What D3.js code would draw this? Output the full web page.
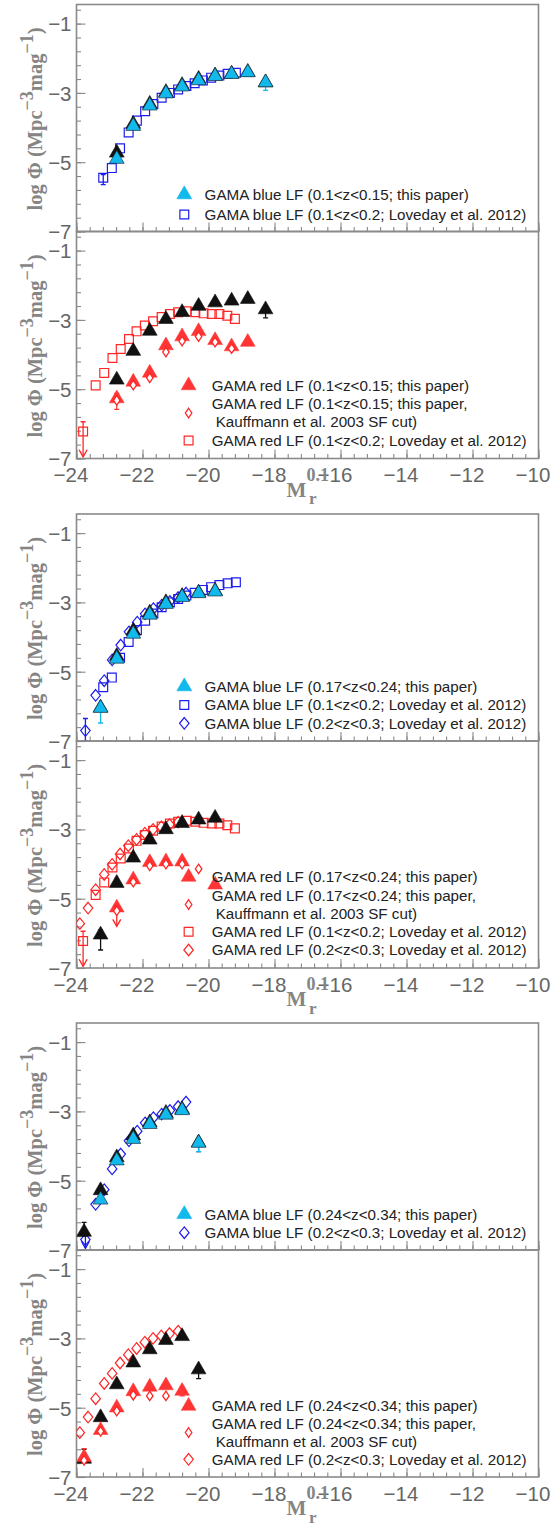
<!DOCTYPE html>
<html><head><meta charset="utf-8">
<script src="https://cdn.jsdelivr.net/npm/d3@7"></script>
<style>body{margin:0;background:#fff}svg{display:block}</style>
</head><body>
<script>
// ---------------- data ----------------
const xTickValues = [-24, -22, -20, -18, -16, -14, -12, -10];
const yTickValues = [-7, -5, -3, -1];

// black triangles, 0.1<z<0.15
const blk1X = [-22.78, -22.28, -21.78, -21.29, -20.8, -20.3, -19.8, -19.3, -18.81, -18.27];
const blk1Y = [-4.73, -3.9, -3.32, -2.98, -2.78, -2.6, -2.5, -2.45, -2.4, -2.7];
// GAMA blue LF 0.1<z<0.15 (this paper)
const cyan1Y = [-4.91, -3.96, -3.37, -3.02, -2.82, -2.64, -2.52, -2.46, -2.41, -2.7];
// GAMA red LF 0.1<z<0.15 (this paper)
const red1X = [-22.78, -22.28, -21.78, -21.29, -20.8, -20.3, -19.8, -19.3, -18.81];
const red1Y = [-5.27, -4.79, -4.53, -3.74, -3.48, -3.33, -3.59, -3.77, -3.64];
// GAMA red LF 0.1<z<0.15, Kauffmann cut
const kau1X = [-22.78, -22.28, -21.78, -21.29, -20.8, -20.3, -19.8, -19.3];
const kau1Y = [-5.32, -4.88, -4.67, -3.93, -3.61, -3.48, -3.64, -3.83];

// black triangles, 0.17<z<0.24
const blk2X = [-23.27, -22.78, -22.28, -21.78, -21.29, -20.8, -20.3, -19.8];
const blk2Y = [-6.04, -4.55, -3.82, -3.3, -3.0, -2.82, -2.72, -2.67];
const cyan2Y = [-6.05, -4.63, -3.91, -3.36, -3.05, -2.85, -2.74, -2.69];
const red2X = [-22.78, -22.28, -21.78, -21.29, -20.8, -19.8];
const red2Y = [-5.26, -4.45, -3.95, -3.93, -3.93, -4.6];
const kau2X = [-22.78, -22.28, -21.78, -21.29, -20.8, -20.3];
const kau2Y = [-5.35, -4.52, -4.05, -4.0, -4.0, -4.14];

// black triangles, 0.24<z<0.34
const blk3X = [-23.77, -23.27, -22.78, -22.28, -21.78, -21.29, -20.8, -20.3];
const blk3Y = [-6.48, -5.28, -4.33, -3.7, -3.32, -3.05, -2.94, -3.9];
const cyan3X = [-23.27, -22.78, -22.28, -21.78, -21.29, -20.8, -20.3];
const cyan3Y = [-5.55, -4.42, -3.8, -3.37, -3.1, -2.97, -3.91];
const red3X = [-23.77, -23.27, -22.78, -22.28, -21.78, -21.29, -20.8];
const red3Y = [-6.43, -5.65, -5.0, -4.53, -4.4, -4.36, -4.52];
const kau3X = [-23.77, -23.27, -22.78, -22.28, -21.78, -21.29];
const kau3Y = [-6.52, -5.68, -5.1, -4.64, -4.66, -4.66];

// Loveday et al. 2012
const lovBlueAX = [-23.19, -22.93, -22.68, -22.42, -22.17, -21.92, -21.67, -21.42, -21.17, -20.92, -20.67, -20.42, -20.17, -19.92, -19.67, -19.42, -19.17];
const lovBlueAY = [-5.45, -5.17, -4.6, -4.14, -3.8, -3.53, -3.32, -3.14, -3.0, -2.9, -2.8, -2.72, -2.64, -2.56, -2.5, -2.45, -2.42];
const lovBlueBX = [-23.73, -23.42, -23.16, -22.92, -22.66, -22.41, -22.16, -21.92, -21.67, -21.42, -21.17, -20.92, -20.68];
const lovBlueBY = [-6.7, -5.68, -5.26, -4.66, -4.23, -3.85, -3.57, -3.33, -3.18, -3.08, -2.97, -2.86, -2.73];
const lovRedAX = [-23.8, -23.42, -23.16, -22.91, -22.66, -22.41, -22.18, -21.93, -21.68, -21.42, -21.17, -20.92, -20.66, -20.4, -20.15, -19.9, -19.67, -19.43, -19.2];
const lovRedAY = [-6.22, -4.89, -4.53, -4.1, -3.84, -3.55, -3.33, -3.16, -3.04, -2.92, -2.83, -2.78, -2.75, -2.78, -2.81, -2.83, -2.83, -2.88, -2.97];
const lovRedBX = [-23.9, -23.65, -23.42, -23.16, -22.92, -22.68, -22.43, -22.18, -21.93, -21.68, -21.43, -21.18, -20.92];
const lovRedBY = [-5.72, -5.27, -4.74, -4.3, -4.01, -3.71, -3.47, -3.29, -3.11, -3.0, -2.93, -2.86, -2.79];

// error bars: [x, low, high, arrowDown]
const errLovBlueA = [[-23.19, -5.65, -5.36, 0]];
const errCyan1 = [[-18.27, -2.93, -2.7, 0]];
const errBlk1 = [[-18.27, -2.94, -2.62, 0]];
const errLovRedA = [[-23.8, -6.95, -5.94, 1]];
const errRed1 = [[-22.78, -5.58, -5.12, 0]];
const errCyan2 = [[-23.27, -6.48, -5.9, 0]];
const errBlk2 = [[-23.27, -6.48, -5.9, 0]];
const errLovBlueB = [[-23.73, -7.0, -6.35, 0]];
const errKau2 = [[-22.78, -5.8, -5.2, 1]];
const errBlk3 = [[-23.77, -6.6, -6.2, 0], [-20.3, -4.16, -3.8, 0]];
const errCyan3 = [[-20.3, -4.16, -3.8, 0]];
const errLovBlueB5 = [[-23.73, -6.95, -6.5, 1]];
const errRed3 = [[-20.8, -4.66, -4.4, 0], [-23.77, -6.6, -6.18, 0]];

// ---------------- layout ----------------
const W = 558, H = 1526;
const svg = d3.select('body').append('svg').attr('width', W).attr('height', H);
const x = d3.scaleLinear().domain([-24, -10]).range([76.5, 538.5]);
const PX_PER_UNIT = 34.65, panelH = 227;
const groupBottoms = [458.5, 968, 1477];

const COL = {cyan: '#12b9ec', blue: '#1c1cf0', red: '#ff3434', redLine: '#ff2626', black: '#111'};
const SANS = "'Liberation Sans', Arial, sans-serif";
const SERIF = "'Liberation Serif', 'Times New Roman', serif";

function zip(xs, ys) { return xs.map((v, i) => [v, ys[i]]); }

const triPath = d3.symbol(d3.symbolTriangle, 95)();
const sqPath = d3.symbol(d3.symbolSquare, 78)();
function diamondPath(w, h) { return `M0,${-h/2}L${w/2},0L0,${h/2}L${-w/2},0Z`; }
const bigDia = diamondPath(9.5, 11.5), smallDia = diamondPath(6.5, 9.5);

const STYLES = {
  black: {path: triPath, fill: COL.black, stroke: COL.black, sw: 0.6, ec: COL.black},
  cyan: {path: triPath, fill: COL.cyan, stroke: '#1d3340', sw: 0.7, ec: COL.cyan},
  red: {path: triPath, fill: COL.red, stroke: COL.red, sw: 0.5, ec: COL.red},
  blueSq: {path: sqPath, fill: 'none', stroke: COL.blue, sw: 1.2, ec: COL.blue},
  redSq: {path: sqPath, fill: 'none', stroke: COL.redLine, sw: 1.2, ec: COL.redLine},
  blueDia: {path: bigDia, fill: 'none', stroke: COL.blue, sw: 1.2, ec: COL.blue},
  redDia: {path: bigDia, fill: 'none', stroke: COL.redLine, sw: 1.2, ec: COL.redLine},
  kau: {path: smallDia, fill: '#fff', stroke: COL.redLine, sw: 1.3, ec: COL.redLine}
};

const panels = [
  {series: [['blueSq', zip(lovBlueAX, lovBlueAY), errLovBlueA], ['black', zip(blk1X, blk1Y), []], ['cyan', zip(blk1X, cyan1Y), errCyan1]],
   legend: {mx: 184.3, tx: 204.6, rows: [[-37, 'cyan', ['GAMA blue LF (0.1<z<0.15; this paper)']], [-17, 'blueSq', ['GAMA blue LF (0.1<z<0.2; Loveday et al. 2012)']]]}},
  {series: [['redSq', zip(lovRedAX, lovRedAY), errLovRedA], ['black', zip(blk1X, blk1Y), errBlk1], ['red', zip(red1X, red1Y), errRed1], ['kau', zip(kau1X, kau1Y), []]],
   legend: {mx: 188.6, tx: 211.7, rows: [[-73, 'red', ['GAMA red LF (0.1<z<0.15; this paper)']], [-45.5, 'kau', ['GAMA red LF (0.1<z<0.15; this paper,', 'Kauffmann et al. 2003 SF cut)']], [-18, 'redSq', ['GAMA red LF (0.1<z<0.2; Loveday et al. 2012)']]]}},
  {series: [['blueSq', zip(lovBlueAX, lovBlueAY), []], ['blueDia', zip(lovBlueBX, lovBlueBY), errLovBlueB], ['black', zip(blk2X, blk2Y), []], ['cyan', zip(blk2X, cyan2Y), errCyan2]],
   legend: {mx: 184.3, tx: 204.6, rows: [[-54.5, 'cyan', ['GAMA blue LF (0.17<z<0.24; this paper)']], [-36, 'blueSq', ['GAMA blue LF (0.1<z<0.2; Loveday et al. 2012)']], [-17.7, 'blueDia', ['GAMA blue LF (0.2<z<0.3; Loveday et al. 2012)']]]}},
  {series: [['redSq', zip(lovRedAX, lovRedAY), errLovRedA], ['redDia', zip(lovRedBX, lovRedBY), []], ['black', zip(blk2X, blk2Y), errBlk2], ['red', zip(red2X, red2Y), []], ['kau', zip(kau2X, kau2Y), errKau2]],
   legend: {mx: 188.6, tx: 211.7, rows: [[-91, 'red', ['GAMA red LF (0.17<z<0.24; this paper)']], [-63.5, 'kau', ['GAMA red LF (0.17<z<0.24; this paper,', 'Kauffmann et al. 2003 SF cut)']], [-36.3, 'redSq', ['GAMA red LF (0.1<z<0.2; Loveday et al. 2012)']], [-18, 'redDia', ['GAMA red LF (0.2<z<0.3; Loveday et al. 2012)']]]}},
  {series: [['blueDia', zip(lovBlueBX, lovBlueBY), errLovBlueB5], ['black', zip(blk3X, blk3Y), errBlk3], ['cyan', zip(cyan3X, cyan3Y), errCyan3]],
   legend: {mx: 184.3, tx: 204.6, rows: [[-35.7, 'cyan', ['GAMA blue LF (0.24<z<0.34; this paper)']], [-17.3, 'blueDia', ['GAMA blue LF (0.2<z<0.3; Loveday et al. 2012)']]]}},
  {series: [['redDia', zip(lovRedBX, lovRedBY), []], ['black', zip(blk3X, blk3Y), errBlk3], ['red', zip(red3X, red3Y), errRed3], ['kau', zip(kau3X, kau3Y), []]],
   legend: {mx: 188.6, tx: 211.7, rows: [[-71, 'red', ['GAMA red LF (0.24<z<0.34; this paper)']], [-44.5, 'kau', ['GAMA red LF (0.24<z<0.34; this paper,', 'Kauffmann et al. 2003 SF cut)']], [-17.7, 'redDia', ['GAMA red LF (0.2<z<0.3; Loveday et al. 2012)']]]}}
];

const xMinor = d3.range(-24, -9.99, 0.4);
const yMinor = d3.range(-7, -0.5, 0.4);

panels.forEach((p, k) => {
  const g = Math.floor(k / 2), isTop = k % 2 === 0;
  const bottom = groupBottoms[g] - (isTop ? panelH : 0);
  const y = d3.scaleLinear().domain([-7, -7 + panelH / PX_PER_UNIT]).range([bottom, bottom - panelH]);
  const G = svg.append('g');

  const cid = 'clip' + k;
  G.append('clipPath').attr('id', cid).append('rect')
    .attr('x', x.range()[0]).attr('y', bottom - panelH).attr('width', x.range()[1] - x.range()[0]).attr('height', panelH);

  // axes (ticks inward)
  const axB = G.append('g').attr('transform', `translate(0,${bottom})`);
  axB.call(d3.axisBottom(x).tickValues(xMinor).tickSize(-4.5).tickFormat(''));
  const axB2 = G.append('g').attr('transform', `translate(0,${bottom})`);
  axB2.call(d3.axisBottom(x).tickValues(xTickValues).tickSize(-9).tickPadding(19.5).tickFormat(d => isTop ? '' : d3.format('')(d)));
  const axL = G.append('g').attr('transform', `translate(${x.range()[0]},0)`);
  axL.call(d3.axisLeft(y).tickValues(yMinor).tickSize(-4.5).tickFormat(''));
  const axL2 = G.append('g').attr('transform', `translate(${x.range()[0]},0)`);
  axL2.call(d3.axisLeft(y).tickValues(yTickValues).tickSize(-9).tickPadding(5).tickFormat(d3.format('')));
  [axB, axB2, axL, axL2].forEach(a => {
    a.select('.domain').remove();
    a.selectAll('.tick line').attr('stroke', '#888').attr('stroke-width', 1.1);
    a.selectAll('.tick text').attr('fill', '#666').style('font-family', SANS).style('font-size', '20.5px');
  });
  axB2.selectAll('.tick text').attr('dx', -6).attr('dy', '0.2em');
  axL2.selectAll('.tick text').attr('dy', '0.36em');

  // frame
  G.append('rect').attr('x', x.range()[0]).attr('y', bottom - panelH)
    .attr('width', x.range()[1] - x.range()[0]).attr('height', panelH)
    .attr('fill', 'none').attr('stroke', '#8a8a8a').attr('stroke-width', 1.6);

  // y label
  const yl = G.append('text').attr('transform', `translate(41.5,${bottom - panelH / 2 + 1}) rotate(-90)`)
    .attr('text-anchor', 'middle').attr('fill', '#858585')
    .style('font-family', SERIF).style('font-weight', 'bold').style('font-size', '20.5px');
  yl.append('tspan').text('log \u03A6 (Mpc');
  yl.append('tspan').attr('dy', -9).style('font-size', '18px').text('\u22123');
  yl.append('tspan').attr('dy', 9).text('mag');
  yl.append('tspan').attr('dy', -9).style('font-size', '18px').text('\u22121');
  yl.append('tspan').attr('dy', 9).text(')');

  // x title (bottom panels only)
  if (!isTop) {
    const t = G.append('text').attr('fill', '#858585').style('font-family', SERIF).style('font-weight', 'bold');
    t.append('tspan').attr('x', 286.5).attr('y', bottom + 38).style('font-size', '21px').text('M');
    t.append('tspan').attr('x', 306.5).attr('y', bottom + 22).style('font-size', '18px').text('0.1');
    t.append('tspan').attr('x', 309).attr('y', bottom + 45.5).style('font-size', '17px').text('r');
  }

  // data
  const D = G.append('g').attr('clip-path', `url(#${cid})`);
  p.series.forEach(([st, pts, errs]) => {
    const s = STYLES[st];
    errs.forEach(([ex, lo, hi, arrow]) => {
      const X = x(ex), yl1 = y(lo), yh = y(hi);
      D.append('line').attr('x1', X).attr('x2', X).attr('y1', yl1).attr('y2', yh).attr('stroke', s.ec).attr('stroke-width', 1.3);
      D.append('line').attr('x1', X - 2.5).attr('x2', X + 2.5).attr('y1', yh).attr('y2', yh).attr('stroke', s.ec).attr('stroke-width', 1.3);
      if (arrow) {
        D.append('path').attr('d', `M${X - 4},${yl1 - 7}L${X},${yl1}L${X + 4},${yl1 - 7}`).attr('fill', 'none').attr('stroke', s.ec).attr('stroke-width', 1.4);
      } else {
        D.append('line').attr('x1', X - 2.5).attr('x2', X + 2.5).attr('y1', yl1).attr('y2', yl1).attr('stroke', s.ec).attr('stroke-width', 1.3);
      }
    });
    D.selectAll(null).data(pts).join('path')
      .attr('d', s.path)
      .attr('transform', d => `translate(${x(d[0])},${y(d[1])})`)
      .attr('fill', s.fill).attr('stroke', s.stroke).attr('stroke-width', s.sw);
  });

  // legend
  const L = G.append('g');
  p.legend.rows.forEach(([off, st, lines]) => {
    const s = STYLES[st];
    const cy = bottom + off;
    L.append('path').attr('d', s.path).attr('transform', `translate(${p.legend.mx},${cy})`)
      .attr('fill', s.fill === '#fff' ? 'none' : s.fill).attr('stroke', st === 'cyan' ? COL.cyan : s.stroke).attr('stroke-width', s.sw);
    lines.forEach((ln, i) => {
      const ty = lines.length === 1 ? cy : cy - 9 + i * 18;
      L.append('text').attr('x', p.legend.tx + (i > 0 ? 4 : 0)).attr('y', ty).attr('dy', '0.35em')
        .attr('fill', '#222').style('font-family', SANS).style('font-size', '15.2px').text(ln);
    });
  });
});
</script>
</body></html>
